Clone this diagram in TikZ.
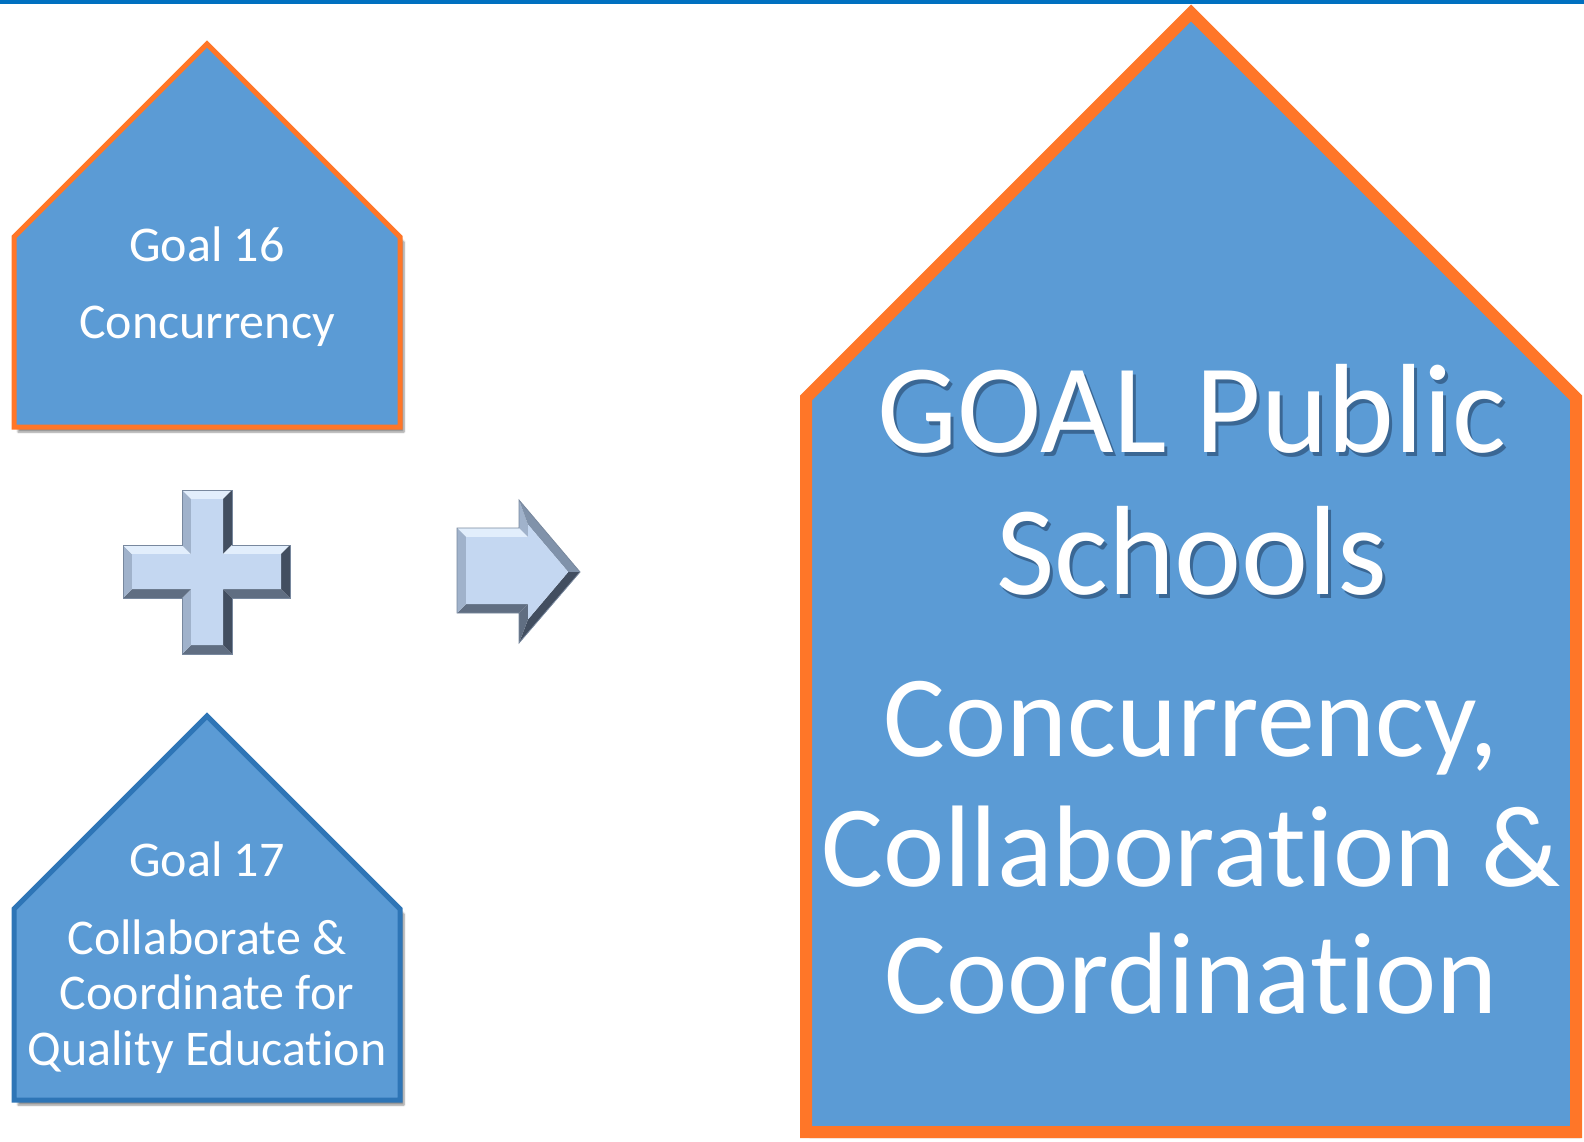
\documentclass[tikz,border=0pt]{standalone}
\usepackage{fontspec}
\setmainfont{Carlito}[Ligatures=NoCommon]
\usetikzlibrary{shadows,shadows.blur}
\definecolor{hfill}{RGB}{91,155,213}
\definecolor{horange}{RGB}{255,118,40}
\definecolor{hblue}{RGB}{46,117,182}
\definecolor{topline}{RGB}{0,112,192}
\definecolor{bvlight}{RGB}{226,238,252}
\definecolor{bvleft}{RGB}{160,178,203}
\definecolor{bvupd}{RGB}{128,146,170}
\definecolor{bvbottom}{RGB}{96,110,130}
\definecolor{bvright}{RGB}{66,78,96}
\definecolor{bvface}{RGB}{196,215,241}
\definecolor{bvedge}{RGB}{120,136,158}
\definecolor{tshadow}{RGB}{20,40,70}
\tikzset{
  housebox/.style={fill=hfill, line join=miter, miter limit=10,
    blur shadow={shadow xshift=4pt, shadow yshift=-5pt, shadow blur steps=6, shadow opacity=45}},
  smalltext/.style={text=white, inner sep=0pt, anchor=base, font=\fontsize{50}{55}\selectfont},
  bigtitle/.style={text=white, inner sep=0pt, anchor=base, font=\fontsize{127}{140}\selectfont},
  bigtext/.style={text=white, inner sep=0pt, anchor=base, font=\fontsize{116}{127}\selectfont},
  titleshadow/.style={text=tshadow, text opacity=0.45},
}
\begin{document}
\begin{tikzpicture}[x=1pt,y=-1pt]
\useasboundingbox (0,0) rectangle (1584,1142);

% Goal 16 house
\draw[housebox, draw=horange, line width=5pt]
  (207,44) -- (400,237) -- (400,427) -- (14,427) -- (14,237) -- cycle;
\node[smalltext] (g16) at (207,261) {Goal 16};
\node[smalltext] (conc) at (207,338) {Concurrency};

% Goal 17 house
\draw[housebox, draw=hblue, line width=5pt]
  (207,716) -- (400,909) -- (400,1100) -- (14,1100) -- (14,909) -- cycle;
\node[smalltext] (g17) at (207,876) {Goal 17};
\node[smalltext] (collab) at (207,954) {Collaborate \&};
\node[smalltext] (coord) at (207,1009) {Coordinate for};
\node[smalltext] (quality) at (207,1065) {Quality Education};

% Plus sign (bevelled)
\begin{scope}
\fill[bvlight] (182,490) -- (232,490) -- (223,499) -- (191,499) -- cycle;
\fill[bvright] (232,490) -- (232,545) -- (223,554) -- (223,499) -- cycle;
\fill[bvlight] (232,545) -- (290,545) -- (281,554) -- (223,554) -- cycle;
\fill[bvright] (290,545) -- (290,598) -- (281,589) -- (281,554) -- cycle;
\fill[bvbottom] (290,598) -- (232,598) -- (223,589) -- (281,589) -- cycle;
\fill[bvright] (232,598) -- (232,654) -- (223,645) -- (223,589) -- cycle;
\fill[bvbottom] (232,654) -- (182,654) -- (191,645) -- (223,645) -- cycle;
\fill[bvleft] (182,654) -- (182,598) -- (191,589) -- (191,645) -- cycle;
\fill[bvbottom] (182,598) -- (123,598) -- (132,589) -- (191,589) -- cycle;
\fill[bvleft] (123,598) -- (123,545) -- (132,554) -- (132,589) -- cycle;
\fill[bvlight] (123,545) -- (182,545) -- (191,554) -- (132,554) -- cycle;
\fill[bvleft] (182,545) -- (182,490) -- (191,499) -- (191,554) -- cycle;
\fill[bvface] (191,499) -- (223,499) -- (223,554) -- (281,554) -- (281,589) -- (223,589)
  -- (223,645) -- (191,645) -- (191,589) -- (132,589) -- (132,554) -- (191,554) -- cycle;
\draw[bvedge, line width=0.8pt] (182,490) -- (232,490) -- (232,545) -- (290,545) -- (290,598) -- (232,598)
  -- (232,654) -- (182,654) -- (182,598) -- (123,598) -- (123,545) -- (182,545) -- cycle;
\end{scope}

% Arrow (bevelled)
\begin{scope}
\fill[bvlight] (457,528) -- (519,528) -- (528,537) -- (466,537) -- cycle;
\fill[bvleft] (519,528) -- (519,500) -- (528,524.6) -- (528,537) -- cycle;
\fill[bvupd] (519,500) -- (580,572) -- (568.2,572) -- (528,524.6) -- cycle;
\fill[bvright] (580,572) -- (519,643) -- (528,619.4) -- (568.2,572) -- cycle;
\fill[bvbottom] (519,643) -- (519,613) -- (528,604) -- (528,619.4) -- cycle;
\fill[bvbottom] (519,613) -- (457,613) -- (466,604) -- (528,604) -- cycle;
\fill[bvleft] (457,613) -- (457,528) -- (466,537) -- (466,604) -- cycle;
\fill[bvface] (466,537) -- (528,537) -- (528,524.6) -- (568.2,572) -- (528,619.4) -- (528,604) -- (466,604) -- cycle;
\draw[bvedge, line width=0.8pt, line join=miter] (457,528) -- (519,528) -- (519,500) -- (580,572) -- (519,643) -- (519,613) -- (457,613) -- cycle;
\end{scope}

% Big house
\draw[housebox, draw=horange, line width=12pt]
  (1191,13) -- (1576,398) -- (1576,1132) -- (806,1132) -- (806,398) -- cycle;
\node[bigtitle, titleshadow] (gps) at (1195,456) {GOAL Public};
\node[bigtitle] (gp) at (1192,452) {GOAL Public};
\node[bigtitle, titleshadow] (schs) at (1195,598) {Schools};
\node[bigtitle] (sch) at (1192,594) {Schools};
\node[bigtext] (bconc) at (1191,756) {Concurrency,};
\node[bigtext] (bcoll) at (1191,886) {Collaboration \&};
\node[bigtext] (bcoord) at (1191,1013) {Coordination};

% Top line
\fill[topline] (0,0) rectangle (1584,4);
\end{tikzpicture}
\end{document}
